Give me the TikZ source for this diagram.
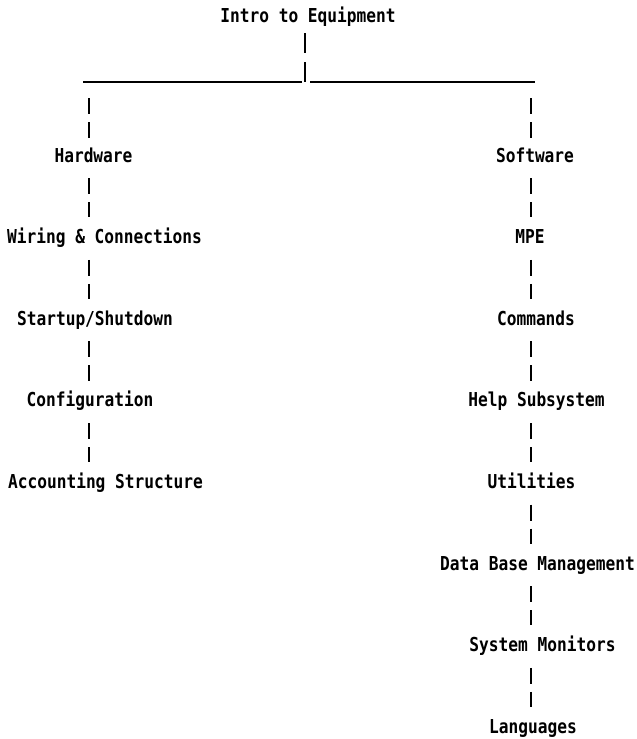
\documentclass[tikz,border=0pt]{standalone}
\usepackage{fontspec}
\newfontfamily\termfont{DejaVu Sans Mono}[FakeStretch=0.843]
\begin{document}
\begin{tikzpicture}[x=1pt,y=-1pt,
  lbl/.style={inner sep=0pt, text height=14pt, text depth=4pt, anchor=base,
    font=\termfont\bfseries\fontsize{19.2}{20}\selectfont},
  conn/.style={line width=1.8pt, dash pattern=on 16pt off 8pt,
    shorten <=12pt, shorten >=12pt},
  bar/.style={line width=1.5pt}]
\useasboundingbox (0,0) rectangle (637,739);
% column axes
\coordinate (I) at (305,0);
\coordinate (L) at (89,0);
\coordinate (R) at (531,0);
% horizontal bar
\coordinate (hl) at (83,82);
\coordinate (jl) at (302,82);
\coordinate (j)  at (305,82);
\coordinate (jr) at (310,82);
\coordinate (hr) at (535,82);
% nodes
\node[lbl] (intro) at (308,22) {Intro to Equipment};
\node[lbl] (hw)  at (93.5,162)  {Hardware};
\node[lbl] (wc)  at (104.5,243.6) {Wiring \& Connections};
\node[lbl] (ss)  at (95,325.2)  {Startup/Shutdown};
\node[lbl] (cf)  at (90,406.8)  {Configuration};
\node[lbl] (ac)  at (105.5,488.4) {Accounting Structure};
\node[lbl] (sw)  at (535,162)   {Software};
\node[lbl] (mpe) at (530,243.6) {MPE};
\node[lbl] (cm)  at (536,325.2) {Commands};
\node[lbl] (hs)  at (536.5,406.8) {Help Subsystem};
\node[lbl] (ut)  at (531.5,488.4) {Utilities};
\node[lbl] (db)  at (537.5,570) {Data Base Management};
\node[lbl] (sm)  at (542.5,651.6) {System Monitors};
\node[lbl] (lg)  at (533,733.2) {Languages};
% connectors
\draw[conn, dash pattern=on 20pt off 9pt, shorten <=7pt, shorten >=0pt] (intro.south -| I) -- (j);
\draw[bar] (hl) -- (jl);
\draw[bar] (jr) -- (hr);
\draw[conn, shorten <=16pt, shorten >=10pt] (hl -| L) -- (hw.north -| L);
\draw[conn, shorten <=16pt, shorten >=10pt] (hr -| R) -- (sw.north -| R);
\draw[conn] (hw.south -| L) -- (wc.north -| L);
\draw[conn] (wc.south -| L) -- (ss.north -| L);
\draw[conn] (ss.south -| L) -- (cf.north -| L);
\draw[conn] (cf.south -| L) -- (ac.north -| L);
\draw[conn] (sw.south -| R) -- (mpe.north -| R);
\draw[conn] (mpe.south -| R) -- (cm.north -| R);
\draw[conn] (cm.south -| R) -- (hs.north -| R);
\draw[conn] (hs.south -| R) -- (ut.north -| R);
\draw[conn] (ut.south -| R) -- (db.north -| R);
\draw[conn] (db.south -| R) -- (sm.north -| R);
\draw[conn] (sm.south -| R) -- (lg.north -| R);
\end{tikzpicture}
\end{document}
